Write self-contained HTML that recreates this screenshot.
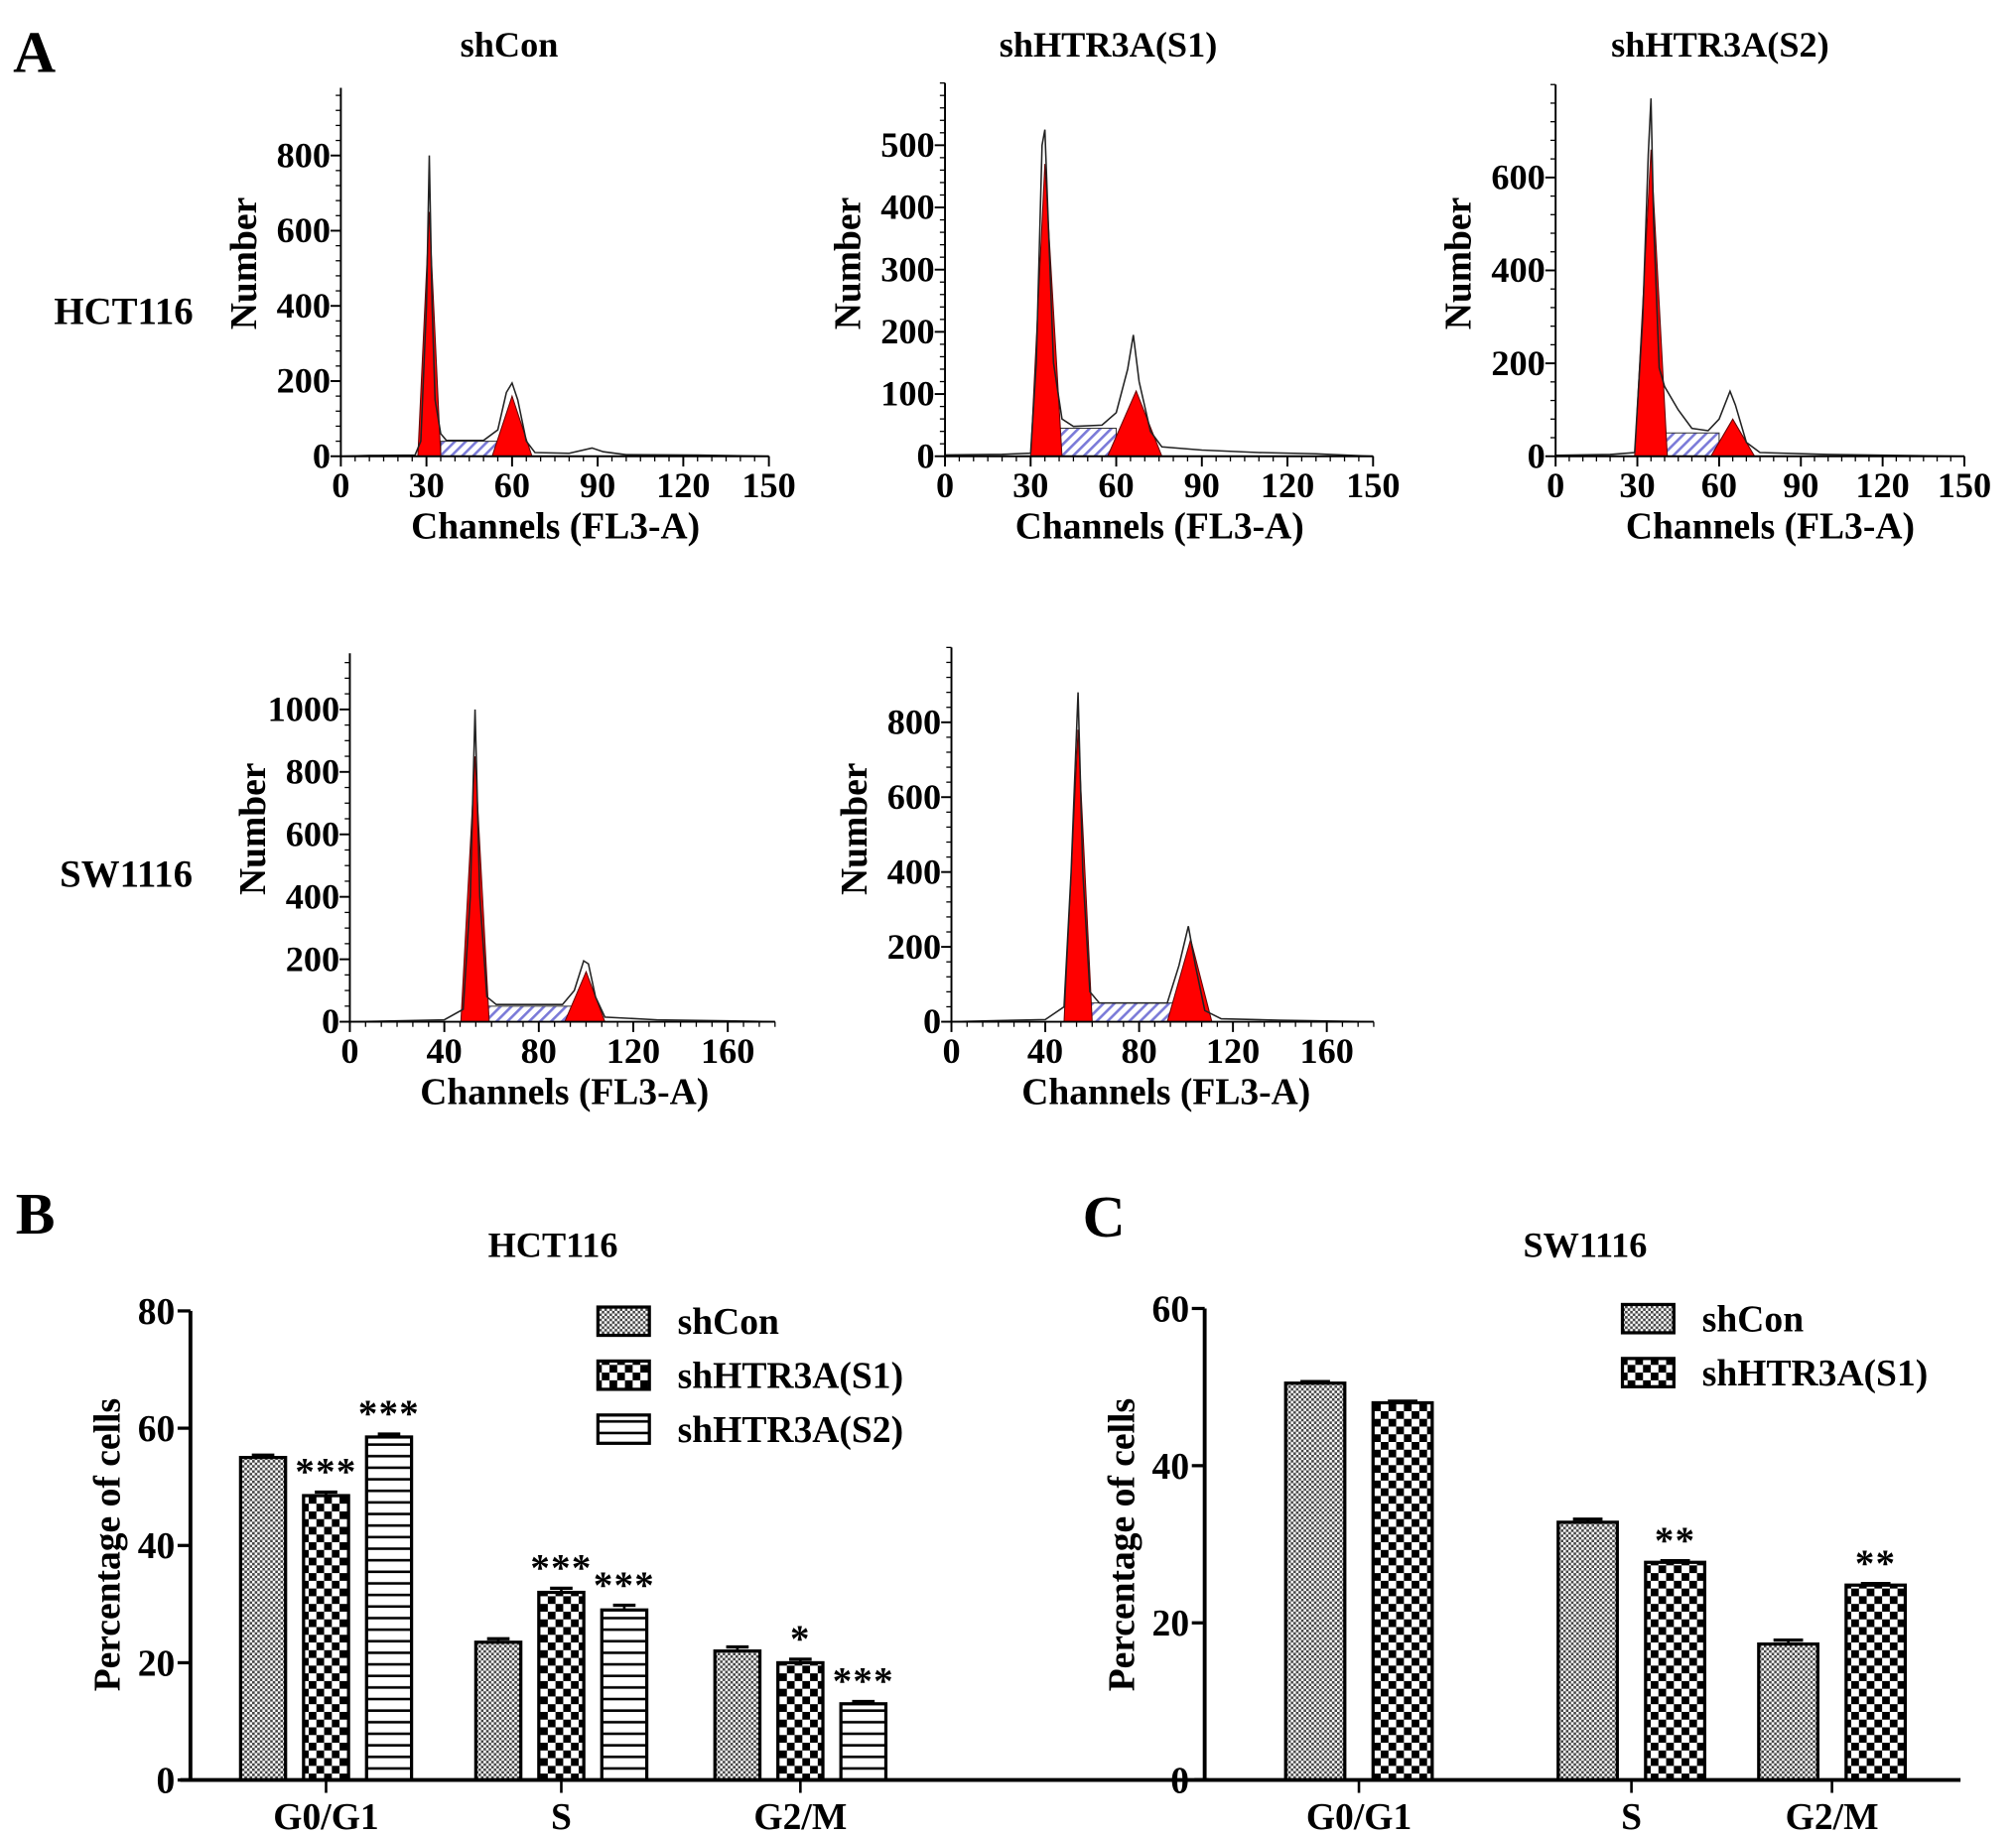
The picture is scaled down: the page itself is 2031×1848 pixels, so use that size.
<!DOCTYPE html>
<html><head><meta charset="utf-8"><style>
html,body{margin:0;padding:0;background:#fff}
svg{display:block}
text{font-family:"Liberation Serif",serif;font-weight:bold;fill:#000}
</style></head><body>
<svg id="fig" width="2031" height="1848" viewBox="0 0 1568 1427" xmlns="http://www.w3.org/2000/svg">
<defs>
<pattern id="pCon" width="4" height="4" patternUnits="userSpaceOnUse"><rect width="4" height="4" fill="#fff"/><rect width="2" height="2" fill="#444"/><rect x="2" y="2" width="2" height="2" fill="#444"/></pattern>
<pattern id="pS1" width="12" height="12" patternUnits="userSpaceOnUse"><rect width="12" height="12" fill="#fff"/><rect width="6" height="6" fill="#000"/><rect x="6" y="6" width="6" height="6" fill="#000"/></pattern>
<pattern id="pS2" width="8" height="9" patternUnits="userSpaceOnUse"><rect width="8" height="9" fill="#fff"/><rect y="7" width="8" height="2" fill="#000"/></pattern>
<pattern id="pHatch" width="6" height="6" patternUnits="userSpaceOnUse" patternTransform="rotate(45)"><rect width="6" height="6" fill="#fff"/><rect width="2" height="6" fill="#7a7ad8"/></pattern>
</defs>
<text x="10" y="56" font-size="46">A</text>
<text x="12" y="960" font-size="46">B</text>
<text x="842" y="962" font-size="46">C</text>
<text x="396" y="44" font-size="28" text-anchor="middle">shCon</text>
<text x="862" y="44" font-size="28" text-anchor="middle">shHTR3A(S1)</text>
<text x="1338" y="44" font-size="28" text-anchor="middle">shHTR3A(S2)</text>
<text x="96" y="252" font-size="30" text-anchor="middle">HCT116</text>
<text x="98" y="690" font-size="30" text-anchor="middle">SW1116</text>
<g id="charts"></g>
</svg>
<script>
// ---- Histogram data (channel, count) ----
const h1Outline=[[0,0],[10,2],[26,3],[28,40],[30,400],[31,800],[32,400],[33,150],[35,60],[37,42],[50,42],[55,70],[58,170],[60,195],[62,150],[65,40],[68,10],[80,8],[88,22],[92,12],[100,4],[125,3],[150,0]];
const h1G1=[[27,0],[31,650],[35,0]];
const h1G2=[[53,0],[60,160],[67,0]];
const h1S=[[35,0],[35,40],[55,40],[55,0]];
const h2Outline=[[0,2],[20,3],[30,5],[32,150],[34,500],[35,525],[36,400],[38,150],[41,60],[45,48],[55,50],[60,70],[64,140],[66,195],[68,120],[72,40],[76,15],[90,10],[110,6],[130,4],[150,0]];
const h2G1=[[30,0],[35,470],[41,0]];
const h2G2=[[57,0],[67,105],[76,0]];
const h2S=[[38,0],[38,45],[60,45],[60,0]];
const h3Outline=[[0,2],[20,4],[29,8],[32,300],[34,650],[35,770],[36,500],[38,190],[40,150],[45,100],[50,60],[56,55],[60,80],[64,140],[66,110],[70,30],[75,8],[100,4],[150,0]];
const h3G1=[[29,0],[35,660],[41,0]];
const h3G2=[[57,0],[65,80],[73,0]];
const h3S=[[38,0],[38,50],[60,50],[60,0]];
const h4Outline=[[0,0],[20,3],[40,6],[48,40],[51,400],[53,1000],[55,400],[58,80],[62,55],[90,55],[95,100],[99,195],[101,185],[104,80],[108,15],[130,6],[160,3],[180,0]];
const h4G1=[[47,0],[53,850],[59,0]];
const h4G2=[[91,0],[100,160],[108,0]];
const h4S=[[58,0],[58,50],[94,50],[94,0]];
const h5Outline=[[0,0],[20,3],[40,6],[48,40],[51,400],[54,880],[56,400],[59,80],[63,50],[92,50],[97,150],[101,255],[104,150],[108,30],[115,8],[140,4],[180,0]];
const h5G1=[[48,0],[54,780],[60,0]];
const h5G2=[[92,0],[102,220],[111,0]];
const h5S=[[58,0],[58,50],[95,50],[95,0]];
const h1Ticks=[0,200,400,600,800], h2Ticks=[0,100,200,300,400,500], h3Ticks=[0,200,400,600];
const h4Ticks=[0,200,400,600,800,1000], h5Ticks=[0,200,400,600,800];
const xTicksA=[0,30,60,90,120,150], xTicksB=[0,40,80,120,160];
// ---- Bar chart data ----
const phases=["G0/G1","S","G2/M"];
const hctCon=[55,23.5,22], hctS1=[48.5,32,20], hctS2=[58.5,29,13];
const hctErr=[0.4,0.6,0.7], hctErrS1=[0.6,0.7,0.6], hctErrS2=[0.5,0.8,0.4];
const hctStars=[["","***","***"],["","***","***"],["","*","***"]];
const swCon=[50.5,32.8,17.3], swS1=[48,27.7,24.8];
const swErr=[0.2,0.4,0.5], swErrS1=[0.2,0.2,0.2];
const swStars=[["",""],["","**"],["","**"]];
const hctTicks=[0,20,40,60,80], swTicks=[0,20,40,60];

const NS="http://www.w3.org/2000/svg";
const root=document.getElementById('charts');
function mk(tag,attrs,parent){const e=document.createElementNS(NS,tag);for(const k in attrs)e.setAttribute(k,attrs[k]);(parent||root).appendChild(e);return e;}
function txt(x,y,s,size,anchor,parent){const t=mk('text',{x:x,y:y,'font-size':size,'text-anchor':anchor||'middle'},parent);t.textContent=s;return t;}

function hist(name,ox,oy,xPerUnit,xMax,yPerUnit,yMax,yTicks,xTicks,minorY,outline,g1,g2,sph){
  const g=mk('g',{});
  
  
  const X=v=>ox+v*xPerUnit, Y=v=>oy-v*yPerUnit;
  const pts=a=>a.map(p=>X(p[0]).toFixed(1)+','+Y(p[1]).toFixed(1)).join(' ');
  const s=mk('polygon',{points:pts(sph),fill:'url(#pHatch)',stroke:'#333','stroke-width':0.8},g);
  
  const a=mk('polygon',{points:pts(g1),fill:'#f00',stroke:'#600','stroke-width':0.8},g);
  
  const b=mk('polygon',{points:pts(g2),fill:'#f00',stroke:'#600','stroke-width':0.8},g);
  
  const l=mk('polyline',{points:pts(outline),fill:'none',stroke:'#222','stroke-width':1.2},g);
  
  const ya=mk('line',{x1:ox,y1:oy,x2:ox,y2:Y(yMax),stroke:'#000','stroke-width':1.5},g);
  
  const xa=mk('line',{x1:ox,y1:oy,x2:X(xMax),y2:oy,stroke:'#000','stroke-width':1.5},g);
  
  for(let v=0;v<=yMax;v+=minorY) mk('line',{x1:ox-4,y1:Y(v),x2:ox,y2:Y(v),stroke:'#000','stroke-width':1},g);
  yTicks.forEach(v=>{mk('line',{x1:ox-8,y1:Y(v),x2:ox,y2:Y(v),stroke:'#000','stroke-width':1.5},g);const t=txt(ox-8,Y(v)+9,String(v),28,'end',g);});
  const step=(xTicks[1]-xTicks[0])/6;
  for(let v=0;v<=xMax+0.01;v+=step) mk('line',{x1:X(v),y1:oy,x2:X(v),y2:oy+4,stroke:'#000','stroke-width':1},g);
  xTicks.forEach(v=>{mk('line',{x1:X(v),y1:oy,x2:X(v),y2:oy+8,stroke:'#000','stroke-width':1.5},g);const t=txt(X(v),oy+32,String(v),28,'middle',g);});
  const xt=txt(ox+167,oy+64,'Channels (FL3-A)',29,'middle',g);
  
  const yt=txt(0,0,'Number',29,'middle',g);
  yt.setAttribute('transform',`translate(${ox-66},${oy-150}) rotate(-90)`);
  
}
hist('histogram-hct116-shcon',265,355,333/150,150,58.5/200,980,h1Ticks,xTicksA,40,h1Outline,h1G1,h1G2,h1S);
hist('histogram-hct116-s1',735,355,333/150,150,48.4/100,600,h2Ticks,xTicksA,20,h2Outline,h2G1,h2G2,h2S);
hist('histogram-hct116-s2',1210,355,318/150,150,72.3/200,800,h3Ticks,xTicksA,40,h3Outline,h3G1,h3G2,h3S);
hist('histogram-sw1116-shcon',272,795,294/160,180,48.6/200,1180,h4Ticks,xTicksB,50,h4Outline,h4G1,h4G2,h4S);
hist('histogram-sw1116-s1',740,795,292/160,180,58.25/200,1000,h5Ticks,xTicksB,40,h5Outline,h5G1,h5G2,h5S);

function bars(name,ox,oy,yPer,yMax,yTicks,xEnd,series,errs,fills,stars,starts,bw,gap,title,tx,legendX,legendY,labels){
  const g=mk('g',{});
  
  
  const Y=v=>oy-v*yPer;
  const tt=txt(tx,978,title,28,'middle',g);
  phases.forEach((p,i)=>{
    series.forEach((ser,k)=>{
      const x=starts[i]+k*(bw+gap);
      const r=mk('rect',{x:x,y:Y(ser[i]),width:bw,height:oy-Y(ser[i]),fill:fills[k],stroke:'#000','stroke-width':2.5},g);
      
      
      const ey=Y(ser[i]+errs[k][i]);
      mk('line',{x1:x+bw/2,y1:Y(ser[i]),x2:x+bw/2,y2:ey,stroke:'#000','stroke-width':2},g);
      mk('line',{x1:x+bw*0.25,y1:ey,x2:x+bw*0.75,y2:ey,stroke:'#000','stroke-width':2.5},g);
      const st=stars[i][k];
      if(st){const s=txt(x+bw/2,ey-6,st,30,'middle',g);s.setAttribute('font-weight','normal');s.setAttribute('letter-spacing','1');}
    });
    const cx=starts[i]+(series.length*bw+(series.length-1)*gap)/2;
    mk('line',{x1:cx,y1:oy,x2:cx,y2:oy+10,stroke:'#000','stroke-width':2},g);
    const c=txt(cx,oy+38,p,29,'middle',g);
  });
  const ya=mk('line',{x1:ox,y1:oy,x2:ox,y2:Y(yMax),stroke:'#000','stroke-width':3},g);
  
  const xa=mk('line',{x1:ox-8,y1:oy,x2:xEnd,y2:oy,stroke:'#000','stroke-width':3},g);
  
  yTicks.forEach(v=>{mk('line',{x1:ox-10,y1:Y(v),x2:ox,y2:Y(v),stroke:'#000','stroke-width':2.5},g);const t=txt(ox-12,Y(v)+10,String(v),29,'end',g);});
  const yt=txt(0,0,'Percentage of cells',29,'middle',g);
  yt.setAttribute('transform',`translate(${ox-55},${oy-183}) rotate(-90)`);
  
  labels.forEach((lb,k)=>{
    const ly=legendY+k*42;
    const r=mk('rect',{x:legendX,y:ly-11,width:40,height:22,fill:fills[k],stroke:'#000','stroke-width':2.5},g);
    
    const t=txt(legendX+62,ly+10,lb,29,'start',g);
    
  });
}
bars('bar-chart-hct116',148,1385,91.25/20,80,hctTicks,940,[hctCon,hctS1,hctS2],[hctErr,hctErrS1,hctErrS2],['url(#pCon)','url(#pS1)','url(#pS2)'],hctStars,[187,370,556],35,14,'HCT116',430,465,1028,['shCon','shHTR3A(S1)','shHTR3A(S2)']);
bars('bar-chart-sw1116',937,1385,122.3/20,60,swTicks,1525,[swCon,swS1],[swErr,swErrS1],['url(#pCon)','url(#pS1)'],swStars,[1000,1212,1368],46,22,'SW1116',1233,1262,1026,['shCon','shHTR3A(S1)']);
</script>
</body></html>
